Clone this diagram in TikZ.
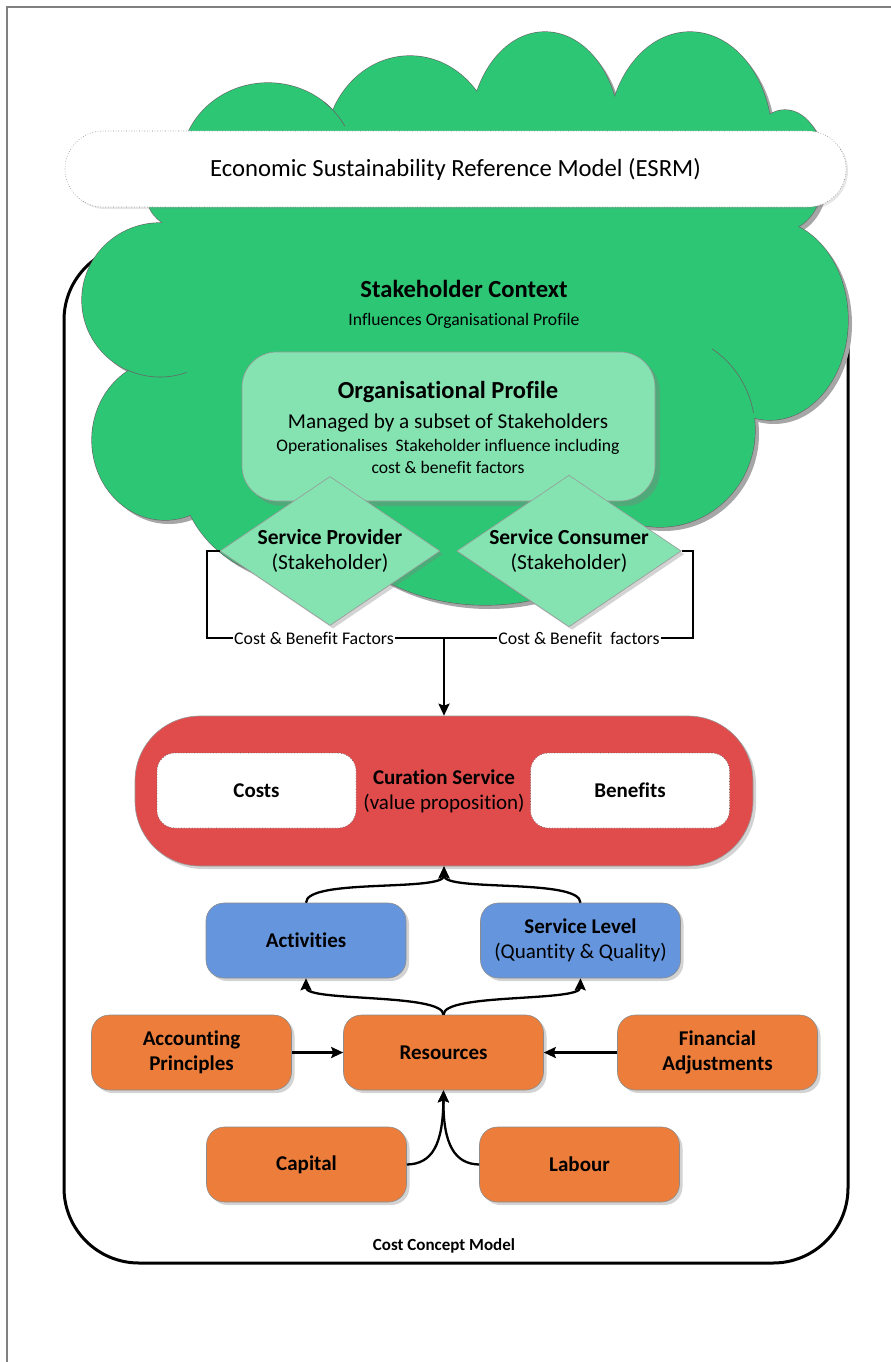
\documentclass[tikz,border=0pt]{standalone}
\usepackage{fontspec}
\setmainfont{Carlito}[Ligatures=NoCommon]
\usetikzlibrary{shapes.geometric,arrows.meta,shadows}
\definecolor{cloudg}{HTML}{2DC675}
\definecolor{lgreen}{HTML}{84E3B1}
\definecolor{redc}{HTML}{E04B4C}
\definecolor{bluec}{HTML}{6495DD}
\definecolor{orangec}{HTML}{ED7D3B}
\newcommand\fsz[1]{\fontsize{#1pt}{1.2\dimexpr #1pt\relax}\selectfont}
\begin{document}
\begin{tikzpicture}[x=1pt,y=-1pt,
  shad/.style={drop shadow={shadow xshift=3pt,shadow yshift=-3pt,opacity=0.35}},
  box/.style={draw=black!45, line width=0.6pt, rounded corners=18pt, minimum width=200pt,
    minimum height=75pt, inner sep=2pt, align=center, font=\bfseries\fsz{21}, shad},
  obox/.style={box, fill=orangec},
  bbox/.style={box, fill=bluec},
  wbox/.style={draw=black!60, dotted, line width=0.7pt, fill=white, rounded corners=18pt,
    minimum width=199pt, minimum height=75pt, font=\bfseries\fsz{21}},
  dia/.style={diamond, aspect=1.48, draw=black!40, line width=0.6pt, fill=lgreen,
    minimum width=220pt, minimum height=149pt, inner sep=0pt, align=center, font=\fsz{21.5}, shad},
  conn/.style={line width=2.3pt},
  arr/.style={conn, -{Stealth[length=12pt,width=11pt,inset=2pt]}},
  lbl/.style={fill=white, inner sep=1pt, font=\fsz{17.8}},
  txt/.style={inner sep=0pt, align=center},
  inarc/.style={black!60, line width=0.6pt}
]
\useasboundingbox (0,0) rectangle (891,1362);
% page frame
\draw[black!50, line width=1.5pt] (7,1362) -- (7,7) -- (891,7);
% cost concept model frame
\node[draw, line width=3pt, rounded corners=75pt, minimum width=784pt, minimum height=1018pt, inner sep=0pt] (ccm) at (456,754) {};
\node[txt, font=\bfseries\fsz{17}] (ccmlbl) at (444,1246) {Cost Concept Model};
% cloud
\def\cloudlist{268/165/87/82, 410/150/85/94, 545/135/75/103, 690/140/82/108, 785/170/40/60, 230/200/82/40, 160/300/78/77, 165/440/73/80, 300/470/120/110, 485/460/180/145, 660/430/95/97, 770/320/78/100}
\foreach \cx/\cy/\rx/\ry in \cloudlist {\fill[black!35] ({\cx+4},{\cy+4}) ellipse [x radius=\rx pt, y radius=\ry pt];}
\foreach \cx/\cy/\rx/\ry in \cloudlist {\draw[black!60, line width=1.2pt] (\cx,\cy) ellipse [x radius=\rx pt, y radius=\ry pt];}
\foreach \cx/\cy/\rx/\ry in \cloudlist {\fill[cloudg] (\cx,\cy) ellipse [x radius=\rx pt, y radius=\ry pt];}
\fill[cloudg] (268,165) -- (410,150) -- (545,135) -- (690,140) -- (785,170) -- (770,320) -- (660,430) -- (485,460) -- (300,470) -- (165,440) -- (160,300) -- (230,200) -- cycle;
\draw[inarc] (324,102) arc[start angle=50, end angle=28, x radius=87pt, y radius=82pt];
\draw[inarc] (186.7,372.4) arc[start angle=-70, end angle=-115, x radius=78pt, y radius=77pt];
\draw[inarc] (711.7,348.6) arc[start angle=57, end angle=10, x radius=95pt, y radius=97pt];
% banner
\node[draw=black!50, dotted, line width=0.6pt, fill=white, rounded corners=38pt, minimum width=781pt, minimum height=76pt,
  font=\fsz{24.7}, drop shadow={shadow xshift=2pt,shadow yshift=-2pt,opacity=0.2}] (esrm) at (455.5,169) {Economic Sustainability Reference Model (ESRM)};
\node[txt, font=\bfseries\fsz{24.6}] (sc) at (464,289) {Stakeholder Context};
\node[txt, font=\fsz{17.6}] (sci) at (464,321) {Influences Organisational Profile};
% organisational profile
\node[draw=black!40, line width=0.6pt, fill=lgreen, rounded corners=35pt, minimum width=413pt, minimum height=149pt,
  drop shadow={shadow xshift=5pt,shadow yshift=-5pt,opacity=0.4}] (org) at (448.5,426.5) {};
\node[txt, font=\bfseries\fsz{24.5}] (orgt) at (448,392) {Organisational Profile};
\node[txt, font=\fsz{21.2}] (org1) at (448,423) {Managed by a subset of Stakeholders};
\node[txt, font=\fsz{17.6}] (org2) at (448,447) {Operationalises\ \ Stakeholder influence including};
\node[txt, font=\fsz{17.6}] (org3) at (448,467) {cost \& benefit factors};
% diamonds
\node[dia] (prov) at (330,551) {\textbf{Service Provider}\\(Stakeholder)};
\node[dia] (cons) at (569,551) {\textbf{Service Consumer}\\(Stakeholder)};
% curation service
\node[draw=black!40, line width=0.6pt, fill=redc, rounded corners=65pt, minimum width=618pt, minimum height=150pt, shad] (cur) at (444,791) {};
\node[wbox] (costs) at (256.5,790.5) {Costs};
\node[wbox] (ben) at (630,790.5) {Benefits};
\node[txt, font=\fsz{21}] (curt) at (444,791) {\textbf{Curation Service}\\(value proposition)};
% connectors from stakeholders
\coordinate (lbr) at (207,638);
\coordinate (rbr) at (693,638);
\coordinate (join) at (444,638);
\draw[conn] (prov.west) -| (lbr) -- (join);
\draw[conn] (cons.east) -| (rbr) -- (join);
\node[lbl] (l1) at (314,638) {Cost \& Benefit Factors};
\node[lbl] (l2) at (579,638) {Cost \& Benefit\ \ factors};
\draw[arr] (join) -- (cur.north);
% activities / service level
\node[bbox] (act) at (306,940.5) {Activities};
\node[bbox, font=\fsz{21}] (sl) at (580.5,940.5) {\textbf{Service Level}\\(Quantity \& Quality)};
\draw[arr] (act.north) .. controls (306,878) and (444,892) .. (cur.south);
\draw[arr] (sl.north) .. controls (580,878) and (444,892) .. (cur.south);
% resources row
\node[obox] (acc) at (191.5,1052.5) {Accounting\\Principles};
\node[obox] (res) at (443.5,1052.5) {Resources};
\node[obox] (fin) at (717.5,1052.5) {Financial\\Adjustments};
\node[obox] (cap) at (306.5,1164.5) {Capital};
\node[obox] (lab) at (579.5,1164.5) {Labour};
\draw[arr] (res.north) .. controls (443,993) and (306,1002) .. (act.south);
\draw[arr] (res.north) .. controls (443,993) and (580,1002) .. (sl.south);
\draw[arr] (acc.east) -- (res.west);
\draw[arr] (fin.west) -- (res.east);
\draw[arr] (cap.east) .. controls (432,1164) and (443,1145) .. (res.south);
\draw[arr] (lab.west) .. controls (455,1164) and (443,1145) .. (res.south);
\end{tikzpicture}
\end{document}
